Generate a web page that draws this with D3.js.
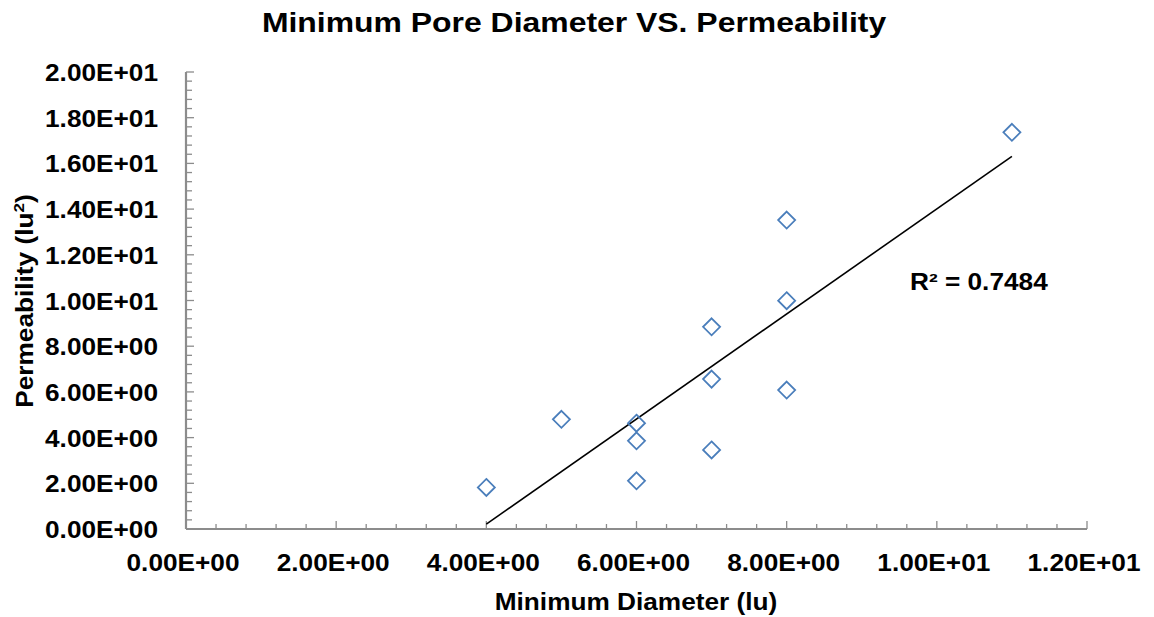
<!DOCTYPE html>
<html>
<head>
<meta charset="utf-8">
<script src="https://cdn.jsdelivr.net/npm/d3@7"></script>
<style>
  body { margin: 0; background: #fff; }
  svg text { font-family: "Liberation Sans", Arial, sans-serif; font-weight: bold; fill: #000; }
</style>
</head>
<body>
<svg id="chart" width="1154" height="617"></svg>
<script>
  var diameter = [4, 5, 6, 6, 6, 7, 7, 7, 8, 8, 8, 11];
  var permeability = [1.82, 4.80, 4.63, 3.86, 2.11, 3.46, 6.56, 8.85, 6.08, 9.99, 13.52, 17.36];
  var x_ticks = [0, 2, 4, 6, 8, 10, 12];
  var y_ticks = [0, 2, 4, 6, 8, 10, 12, 14, 16, 18, 20];
  var r2_label = "R² = 0.7484";

  var margin = {top: 72, right: 67, bottom: 88, left: 186},
    width = 1154 - margin.left - margin.right,
    height = 617 - margin.top - margin.bottom;

  // the original text is a bit wider than Liberation Sans
  var stretch = 1.14;

  var fmt = function(v) {
    var s = v.toExponential(2).toUpperCase();
    return s.replace(/E([+-])(\d)$/, "E$10$2");
  };

  var x_scaler = d3.scaleLinear().domain([0, 12]).range([0, width]);
  var y_scaler = d3.scaleLinear().domain([0, 20]).range([height, 0]);

  var svg = d3.select("#chart");
  var chart = svg.append("g")
    .attr("transform", "translate(" + margin.left + "," + margin.top + ")");

  function label(parent, x, y, size, anchor, txt, rot) {
    var g = parent.append("g")
      .attr("transform", "translate(" + x + "," + y + ")" + (rot ? " rotate(" + rot + ")" : "") + " scale(" + stretch + ",1)");
    return g.append("text")
      .attr("text-anchor", anchor)
      .style("font-size", size + "px")
      .text(txt);
  }

  // minor ticks (inside)
  var x_minor = d3.range(0, 12.001, 0.4);
  var y_minor = d3.range(0, 20.001, 0.4);
  var is_major = function(d) { return Math.abs(d / 2 - Math.round(d / 2)) < 1e-6; };

  chart.append("g")
    .selectAll("line")
    .data(x_minor)
    .enter().append("line")
    .attr("x1", function(d) { return x_scaler(d); })
    .attr("x2", function(d) { return x_scaler(d); })
    .attr("y1", height)
    .attr("y2", function(d) { return is_major(d) ? height - 8 : height - 5; })
    .attr("stroke", "#8c8c8c")
    .attr("stroke-width", 1.3);

  chart.append("g")
    .selectAll("line")
    .data(y_minor)
    .enter().append("line")
    .attr("y1", function(d) { return y_scaler(d); })
    .attr("y2", function(d) { return y_scaler(d); })
    .attr("x1", 0)
    .attr("x2", function(d) { return is_major(d) ? 8 : 6; })
    .attr("stroke", "#8c8c8c")
    .attr("stroke-width", 1.3);

  // axis lines
  chart.append("line")
    .attr("x1", 0).attr("x2", width)
    .attr("y1", height).attr("y2", height)
    .attr("stroke", "#8c8c8c").attr("stroke-width", 2.2);
  chart.append("line")
    .attr("x1", 0).attr("x2", 0)
    .attr("y1", 0).attr("y2", height)
    .attr("stroke", "#8c8c8c").attr("stroke-width", 2.2);

  // tick labels
  x_ticks.forEach(function(d) {
    label(chart, x_scaler(d) - 3, height + 42, 23, "middle", fmt(d));
  });
  y_ticks.forEach(function(d) {
    label(chart, -28, y_scaler(d) + 9, 23, "end", fmt(d));
  });

  // trendline
  var mx = d3.mean(diameter),
    my = d3.mean(permeability),
    sxy = d3.sum(diameter, function(d, i) { return (d - mx) * (permeability[i] - my); }),
    sxx = d3.sum(diameter, function(d) { return (d - mx) * (d - mx); }),
    slope = sxy / sxx,
    intercept = my - slope * mx;
  var x_lo = d3.min(diameter), x_hi = d3.max(diameter);

  chart.append("line")
    .attr("x1", x_scaler(x_lo))
    .attr("y1", y_scaler(intercept + slope * x_lo))
    .attr("x2", x_scaler(x_hi))
    .attr("y2", y_scaler(intercept + slope * x_hi))
    .attr("stroke", "#000")
    .attr("stroke-width", 1.6);

  // markers
  chart.selectAll(".pt")
    .data(diameter)
    .enter().append("path")
    .attr("class", "pt")
    .attr("transform", function(d, i) { return "translate(" + x_scaler(d) + "," + y_scaler(permeability[i]) + ")"; })
    .attr("d", "M0,-8.5L8.5,0L0,8.5L-8.5,0Z")
    .attr("fill", "none")
    .attr("stroke", "#4a7ebb")
    .attr("stroke-width", 1.8);

  label(chart, 724, 218, 23, "start", r2_label);

  // titles
  label(svg, 574, 32, 28, "middle", "Minimum Pore Diameter VS. Permeability");
  label(svg, 636, 610, 23, "middle", "Minimum Diameter (lu)");

  label(svg, 33, 301, 23, "middle", "", -90)
    .html("Permeability (lu<tspan dy='-9' style='font-size:15px'>2</tspan><tspan dy='9'>)</tspan>");
</script>
</body>
</html>
